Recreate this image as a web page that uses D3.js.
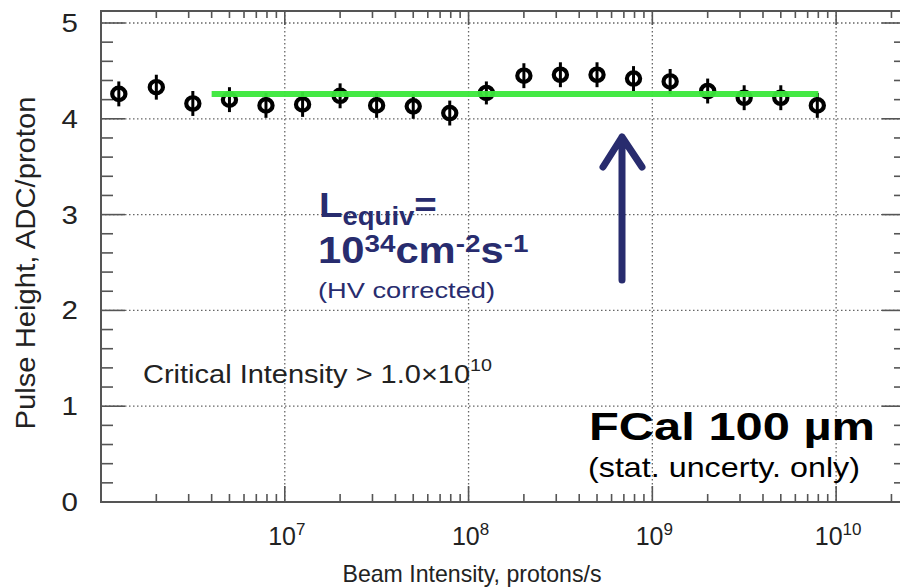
<!DOCTYPE html>
<html><head><meta charset="utf-8">
<script src="https://cdn.jsdelivr.net/npm/d3@7"></script>
<style>html,body{margin:0;padding:0;background:#fff;}svg{display:block;font-family:"Liberation Sans",Arial,sans-serif;}</style>
</head><body>
<svg id="c" width="900" height="587"></svg>
<script>
// ---- data ----
const intensity = [1.25e6, 2e6, 3.16e6, 5e6, 7.9e6, 1.25e7, 2e7, 3.16e7, 5e7, 7.9e7,
                   1.25e8, 2e8, 3.16e8, 5e8, 7.9e8, 1.25e9, 2e9, 3.16e9, 5e9, 7.9e9];
const pulseHeight = [4.26, 4.33, 4.16, 4.20, 4.14, 4.15, 4.24, 4.14, 4.13, 4.06,
                     4.27, 4.45, 4.46, 4.46, 4.42, 4.39, 4.29, 4.22, 4.22, 4.14];
const statError = [0.13, 0.13, 0.13, 0.13, 0.13, 0.13, 0.13, 0.13, 0.13, 0.13,
                   0.12, 0.13, 0.13, 0.13, 0.13, 0.13, 0.13, 0.13, 0.13, 0.13];
const fitRange = [4e6, 8e9];
const fitValue = 4.26;
const xMajorExp = [7, 8, 9, 10];
const yMajor = [0, 1, 2, 3, 4, 5];

const svg = d3.select("#c");
const L = 101, R = 906, T = 11, B = 502;
const x = d3.scaleLog().domain([1e6, 2.4e10]).range([L, R]);
const y = d3.scaleLinear().domain([0, 5]).range([B, 23]);
const navy = "#282c6e";
const axisCol = "#555";

svg.append("rect").attr("width", 900).attr("height", 587).attr("fill", "#fff");

// grid
const g = svg.append("g");
g.selectAll(".gy").data(yMajor.filter(v => v > 0)).enter().append("line")
  .attr("x1", L).attr("x2", R).attr("y1", d => y(d)).attr("y2", d => y(d))
  .attr("stroke", "#666").attr("stroke-width", 1.3).attr("stroke-dasharray", "1.5,2.5");
g.selectAll(".gx").data(xMajorExp).enter().append("line")
  .attr("x1", d => x(Math.pow(10, d))).attr("x2", d => x(Math.pow(10, d)))
  .attr("y1", T).attr("y2", B)
  .attr("stroke", "#666").attr("stroke-width", 1.3).attr("stroke-dasharray", "1.5,2.5");

// ticks
const xMinor = [];
for (let e = 6; e <= 10; e++) for (let m = 2; m <= 9; m++) { const v = m * Math.pow(10, e); if (v < 2.4e10) xMinor.push(v); }
const xMaj = xMajorExp.map(e => Math.pow(10, e));
const tk = svg.append("g").attr("stroke", axisCol).attr("stroke-width", 1.6);
xMinor.forEach(v => {
  tk.append("line").attr("x1", x(v)).attr("x2", x(v)).attr("y1", B).attr("y2", B - 8);
  tk.append("line").attr("x1", x(v)).attr("x2", x(v)).attr("y1", T).attr("y2", T + 7);
});
xMaj.forEach(v => {
  tk.append("line").attr("x1", x(v)).attr("x2", x(v)).attr("y1", B).attr("y2", B - 16);
  tk.append("line").attr("x1", x(v)).attr("x2", x(v)).attr("y1", T).attr("y2", T + 14);
});
const yMinor = d3.range(0, 5.001, 0.2).filter(v => Math.abs(v - Math.round(v)) > 0.01);
yMinor.forEach(v => {
  tk.append("line").attr("x1", L).attr("x2", L + 12).attr("y1", y(v)).attr("y2", y(v));
  tk.append("line").attr("x1", R).attr("x2", R - 12).attr("y1", y(v)).attr("y2", y(v));
});
yMajor.forEach(v => {
  tk.append("line").attr("x1", L).attr("x2", L + 24).attr("y1", y(v)).attr("y2", y(v));
  tk.append("line").attr("x1", R).attr("x2", R - 24).attr("y1", y(v)).attr("y2", y(v));
});
// frame
svg.append("rect").attr("x", L).attr("y", T).attr("width", R - L).attr("height", B - T)
  .attr("fill", "none").attr("stroke", axisCol).attr("stroke-width", 2);

// tick labels
yMajor.forEach(v => {
  svg.append("text").attr("transform", `translate(78,${y(v) + 9}) scale(1.18,1)`)
    .attr("text-anchor", "end").attr("font-size", 25).attr("fill", "#222").text(v);
});
xMajorExp.forEach(e => {
  const t = svg.append("text").attr("x", x(Math.pow(10, e)) + 2).attr("y", 545)
    .attr("text-anchor", "middle").attr("font-size", 25).attr("fill", "#222");
  t.append("tspan").text("10");
  t.append("tspan").attr("dy", -10).attr("font-size", 17).text(e);
});

// axis titles
svg.append("text").attr("x", 472).attr("y", 582).attr("text-anchor", "middle")
  .attr("font-size", 24).attr("fill", "#222").attr("textLength", 259).attr("lengthAdjust", "spacingAndGlyphs")
  .text("Beam Intensity, protons/s");
svg.append("text").attr("transform", "translate(35,263) rotate(-90)").attr("text-anchor", "middle")
  .attr("font-size", 28).attr("fill", "#222").attr("textLength", 333).attr("lengthAdjust", "spacingAndGlyphs")
  .text("Pulse Height, ADC/proton");

// data points
const pts = svg.append("g");
intensity.forEach((v, i) => {
  const cx = x(v), cy = y(pulseHeight[i]);
  pts.append("line").attr("x1", cx).attr("x2", cx)
    .attr("y1", y(pulseHeight[i] + statError[i])).attr("y2", y(pulseHeight[i] - statError[i]))
    .attr("stroke", "#000").attr("stroke-width", 3);
  pts.append("ellipse").attr("cx", cx).attr("cy", cy).attr("rx", 6.6).attr("ry", 6.2)
    .attr("fill", "none").attr("stroke", "#000").attr("stroke-width", 4.2);
});

// fit line
svg.append("line").attr("x1", x(fitRange[0])).attr("x2", x(fitRange[1]))
  .attr("y1", y(fitValue)).attr("y2", y(fitValue))
  .attr("stroke", "#3be83b").attr("stroke-width", 6).attr("opacity", 0.95);

// annotation: arrow
const ax = 622;
svg.append("path").attr("d", `M${ax},280 L${ax},137 M${ax - 19},167 L${ax},137 L${ax + 20},167`)
  .attr("fill", "none").attr("stroke", navy).attr("stroke-width", 7)
  .attr("stroke-linecap", "round").attr("stroke-linejoin", "round");

// Lequiv text
const l1 = svg.append("text").attr("transform", "translate(319,217) scale(1.1,1)")
  .attr("font-weight", "bold").attr("font-size", 35).attr("fill", navy);
l1.append("tspan").text("L");
l1.append("tspan").attr("font-size", 25).attr("dy", 8).text("equiv");
l1.append("tspan").attr("dy", -8).text("=");

const l2 = svg.append("text").attr("transform", "translate(318,263) scale(1.16,1)")
  .attr("font-weight", "bold").attr("font-size", 36).attr("fill", navy);
l2.append("tspan").text("10");
l2.append("tspan").attr("font-size", 24).attr("dy", -11).text("34");
l2.append("tspan").attr("dy", 11).text("cm");
l2.append("tspan").attr("font-size", 24).attr("dy", -11).text("-2");
l2.append("tspan").attr("dy", 11).text("s");
l2.append("tspan").attr("font-size", 24).attr("dy", -11).text("-1");

svg.append("text").attr("x", 318).attr("y", 298).attr("font-size", 22).attr("fill", navy)
  .attr("textLength", 177).attr("lengthAdjust", "spacingAndGlyphs").text("(HV corrected)");

// critical intensity
const ci = svg.append("text").attr("transform", "translate(143,383) scale(1.16,1)")
  .attr("font-size", 25).attr("fill", "#222");
ci.append("tspan").text("Critical Intensity > 1.0\u00d710");
ci.append("tspan").attr("font-size", 17).attr("dy", -12).text("10");

// FCal
svg.append("text").attr("x", 589).attr("y", 440).attr("font-size", 38).attr("font-weight", "bold")
  .attr("fill", "#000").attr("textLength", 286).attr("lengthAdjust", "spacingAndGlyphs").text("FCal 100 \u00b5m");
svg.append("text").attr("x", 588).attr("y", 477).attr("font-size", 28)
  .attr("fill", "#000").attr("textLength", 272).attr("lengthAdjust", "spacingAndGlyphs").text("(stat. uncerty. only)");
</script>
</body></html>
